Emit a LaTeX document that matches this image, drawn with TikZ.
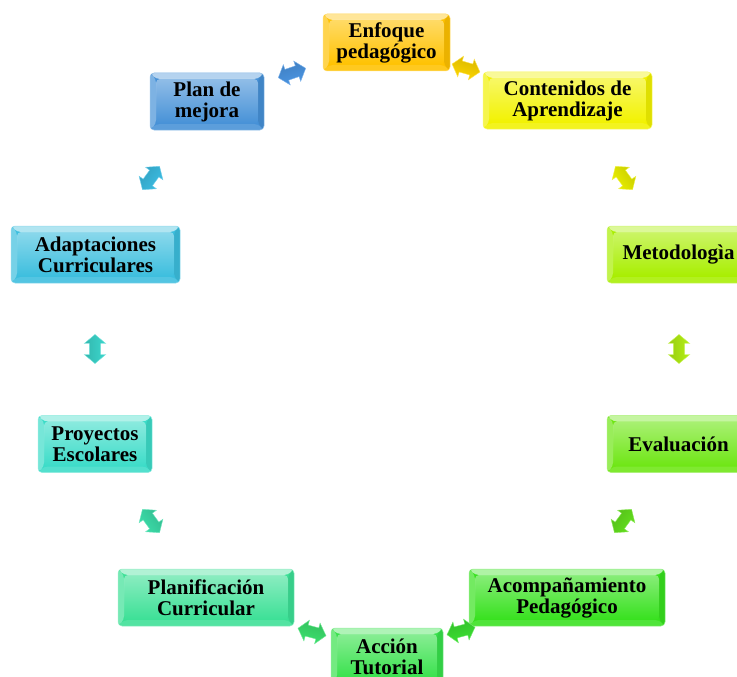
\documentclass[tikz,border=0pt]{standalone}
\usepackage{fontspec}
\setmainfont{Liberation Serif}
\usetikzlibrary{shapes.arrows}

% box colours, running round the cycle
\definecolor{cEnf}{RGB}{255,194,0}
\definecolor{cCon}{RGB}{242,242,0}
\definecolor{cMet}{RGB}{168,238,0}
\definecolor{cEva}{RGB}{110,230,20}
\definecolor{cAco}{RGB}{55,225,30}
\definecolor{cAcc}{RGB}{55,225,75}
\definecolor{cPla}{RGB}{60,224,150}
\definecolor{cPro}{RGB}{60,220,200}
\definecolor{cAda}{RGB}{60,190,222}
\definecolor{cMej}{RGB}{70,145,215}
% arrow colours
\definecolor{aEC}{RGB}{255,215,0}
\definecolor{aCM}{RGB}{235,240,0}
\definecolor{aME}{RGB}{180,240,20}
\definecolor{aEA}{RGB}{100,225,30}
\definecolor{aAT}{RGB}{60,225,50}
\definecolor{aTP}{RGB}{60,225,110}
\definecolor{aPP}{RGB}{60,222,170}
\definecolor{aPA}{RGB}{60,215,205}
\definecolor{aAM}{RGB}{60,190,228}
\definecolor{aMB}{RGB}{75,150,228}

\tikzset{
  card/.style={rectangle, rounded corners=4pt, fill=#1, draw=#1!55!white,
    line width=0.5pt, minimum height=57pt, inner sep=0pt, align=center,
    font=\bfseries\fontsize{21}{21}\selectfont,
    path picture={
      \path (path picture bounding box.north west) coordinate (bnw)
            (path picture bounding box.north east) coordinate (bne)
            (path picture bounding box.south west) coordinate (bsw)
            (path picture bounding box.south east) coordinate (bse);
      \shade[top color=#1!60!white, bottom color=#1]
        ([shift={(6pt,-6pt)}]bnw) rectangle ([shift={(-6pt,6pt)}]bse);
      \fill[white, opacity=.6] (bnw) -- (bne) -- ([shift={(-6pt,-6pt)}]bne)
        -- ([shift={(6pt,-6pt)}]bnw) -- cycle;
      \fill[white, opacity=.3] (bnw) -- ([shift={(6pt,-6pt)}]bnw)
        -- ([shift={(6pt,6pt)}]bsw) -- (bsw) -- cycle;
      \fill[black, opacity=.08] (bne) -- (bse) -- ([shift={(-6pt,6pt)}]bse)
        -- ([shift={(-6pt,-6pt)}]bne) -- cycle;
      \fill[white, opacity=.12] (bsw) -- ([shift={(6pt,6pt)}]bsw)
        -- ([shift={(-6pt,6pt)}]bse) -- (bse) -- cycle;
    }},
  link/.style 2 args={double arrow, double arrow head extend=5pt,
    double arrow tip angle=100, minimum height=29pt, inner xsep=0pt,
    inner ysep=5.5pt, rotate=#1, draw=#2!70!white, line width=0.4pt,
    top color=#2!85!black, middle color=#2!30!white, bottom color=#2,
    shading angle=#1},
}

\begin{document}
\begin{tikzpicture}[x=1pt, y=1pt]
  \clip (0,0) rectangle (737,-677);

  % the ten stages
  \node[card=cEnf, minimum width=127pt] (enf) at (386.5,-42.5)  {Enfoque\\pedagógico};
  \node[card=cCon, minimum width=169pt] (con) at (567.5,-100.5) {Contenidos de\\Aprendizaje};
  \node[card=cMet, minimum width=143pt] (met) at (678.5,-254.5) {Metodologìa};
  \node[card=cEva, minimum width=143pt] (eva) at (678.5,-444)   {Evaluación};
  \node[card=cAco, minimum width=196pt] (aco) at (567,-597.5)   {Acompañamiento\\Pedagógico};
  \node[card=cAcc, minimum width=112pt] (acc) at (387,-656.5)   {Acción\\Tutorial};
  \node[card=cPla, minimum width=176pt] (pla) at (206,-597.5)   {Planificación\\Curricular};
  \node[card=cPro, minimum width=114pt] (pro) at (95,-444)      {Proyectos\\Escolares};
  \node[card=cAda, minimum width=169pt] (ada) at (95.5,-254.5)  {Adaptaciones\\Curriculares};
  \node[card=cMej, minimum width=114pt] (mej) at (207,-101.5)   {Plan de\\mejora};

  % two-way arrows between neighbouring stages
  \node[link={-16}{aEC}] (lEC) at (466,-68)  {};
  \node[link={-54}{aCM}] (lCM) at (624,-178) {};
  \node[link={90}{aME}]  (lME) at (679,-349) {};
  \node[link={54}{aEA}]  (lEA) at (623,-521) {};
  \node[link={15}{aAT}]  (lAT) at (461,-631) {};
  \node[link={-15}{aTP}] (lTP) at (312,-632) {};
  \node[link={-54}{aPP}] (lPP) at (151,-521) {};
  \node[link={90}{aPA}]  (lPA) at (95,-349)  {};
  \node[link={54}{aAM}]  (lAM) at (151,-178) {};
  \node[link={19}{aMB}]  (lMB) at (292,-73)  {};
\end{tikzpicture}
\end{document}
